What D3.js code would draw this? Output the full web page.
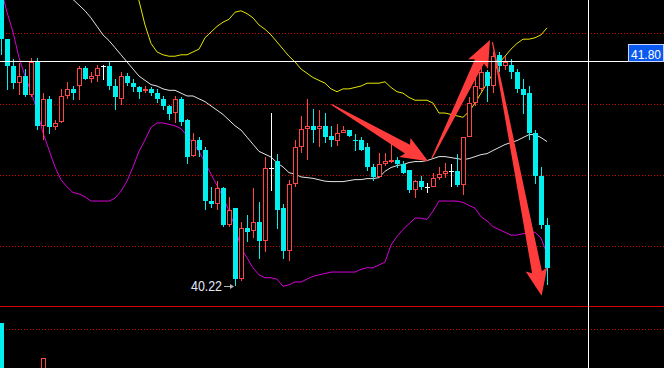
<!DOCTYPE html>
<html>
<head>
<meta charset="utf-8">
<style>
	body { margin: 0; background: #000; }
	svg { display: block; background: #000; }
	.grid { stroke: #d00000; stroke-dasharray: 1,2; }
	.band { fill: none; stroke-width: 1; }
</style>
</head>
<body>
<svg width="664" height="368"></svg>

<script src="https://d3js.org/d3.v7.min.js"></script>
<script>
const width = 664;
const height = 368;
const plotRight = 588;   // vertical white separator before the price column
const mainBottom = 306;  // red line between price and volume panels

// candles, oldest first
const open = [42.27,41.96,41.77,41.65,41.70,41.57,41.80,41.35,41.54,41.34,
	41.38,41.56,41.61,41.63,41.76,41.68,41.70,41.77,41.77,41.63,
	41.54,41.70,41.65,41.62,41.60,41.61,41.58,41.54,41.49,41.44,
	41.54,41.39,41.14,41.25,41.18,40.82,40.80,40.91,40.65,40.77,
	40.27,40.63,40.61,40.67,40.54,41.05,41.10,40.77,40.47,40.94,
	41.20,41.33,41.35,41.33,41.35,41.28,41.24,41.30,41.32,41.25,
	41.25,41.20,41.06,40.99,41.08,41.10,41.11,41.08,41.04,40.90,
	40.96,40.92,40.92,40.98,41.01,41.03,41.03,40.93,41.27,41.51,
	41.61,41.73,41.63,41.85,41.77,41.78,41.73,41.61,41.58,41.30,
	41.00,40.65];
const high = [42.30,41.96,41.82,41.79,41.75,41.83,41.83,41.58,41.56,41.39,
	41.61,41.66,41.63,41.77,41.77,41.73,41.78,41.78,41.80,41.68,
	41.73,41.72,41.68,41.63,41.63,41.62,41.61,41.56,41.50,41.56,
	41.55,41.40,41.30,41.27,41.20,40.92,40.96,40.92,40.85,40.77,
	40.67,40.72,40.91,40.81,41.13,41.44,41.15,40.80,40.97,41.25,
	41.42,41.54,41.47,41.46,41.44,41.35,41.36,41.35,41.32,41.29,
	41.27,41.23,41.08,41.16,41.16,41.22,41.13,41.10,41.04,40.97,
	41.00,40.95,41.02,41.06,41.09,41.08,41.15,41.27,41.55,41.77,
	41.78,41.74,41.87,41.87,41.84,41.82,41.75,41.68,41.63,41.32,
	41.06,40.70];
const low = [41.85,41.60,41.61,41.57,41.55,41.55,41.32,41.25,41.29,41.32,
	41.37,41.54,41.53,41.53,41.67,41.65,41.66,41.67,41.60,41.46,
	41.50,41.63,41.59,41.54,41.58,41.56,41.51,41.46,41.39,41.37,
	41.35,41.08,41.13,41.13,40.76,40.77,40.76,40.64,40.64,40.22,
	40.26,40.53,40.56,40.41,40.46,40.89,40.62,40.41,40.40,40.92,
	41.16,41.11,41.23,41.20,41.23,41.20,41.21,41.30,41.27,41.17,
	41.17,41.03,40.96,40.98,41.07,41.09,41.05,41.01,40.88,40.84,
	40.90,40.88,40.92,40.97,40.98,40.92,40.92,40.86,41.27,41.49,
	41.59,41.52,41.58,41.73,41.74,41.68,41.58,41.43,41.25,40.94,
	40.62,40.23];
const close = [41.96,41.77,41.65,41.70,41.57,41.80,41.35,41.54,41.34,41.37,
	41.56,41.61,41.58,41.76,41.68,41.70,41.76,41.77,41.63,41.55,
	41.70,41.65,41.62,41.59,41.61,41.58,41.54,41.49,41.43,41.54,
	41.38,41.13,41.25,41.18,40.82,40.80,40.91,40.65,40.76,40.27,
	40.63,40.60,40.67,40.54,41.05,41.05,40.76,40.47,40.94,41.20,
	41.33,41.35,41.32,41.35,41.27,41.25,41.30,41.32,41.28,41.24,
	41.18,41.06,40.99,41.08,41.10,41.11,41.08,41.02,40.90,40.96,
	40.92,40.92,40.98,41.01,41.03,41.03,40.93,41.27,41.51,41.63,
	41.73,41.63,41.84,41.77,41.80,41.73,41.61,41.57,41.30,41.00,
	40.65,40.35];
const volume = [8940,5200,4800,4100,3900,5300,5600,6750,4700,3200,
	3600,3000,2600,2900,2400,2200,2500,2300,2800,3300,
	3100,2500,2300,2200,1900,2000,2400,2600,3000,2900,
	3500,4900,3600,3100,5400,3000,3200,4100,3800,5700,
	5100,3300,3600,3900,5200,4600,4200,3900,4800,4100,
	3600,3300,2700,2500,2600,2300,2400,2100,2000,2200,
	2500,3100,2700,2800,2300,2200,2100,2400,3000,2600,
	2200,1900,2100,2000,2100,2000,2500,4300,4700,4200,
	3800,3300,4200,3400,2600,2700,3300,3500,4600,5100,
	5500,5800];

// Bollinger bands, each starting at the given candle
const upperStart = 22;
const upper = [42.32,42.23,42.06,41.93,41.87,41.85,41.84,41.84,41.85,41.85,
	41.87,41.89,41.97,42.01,42.05,42.08,42.10,42.15,42.16,42.14,
	42.11,42.06,42.03,41.99,41.94,41.89,41.84,41.80,41.75,41.72,
	41.69,41.67,41.65,41.61,41.59,41.61,41.61,41.62,41.63,41.65,
	41.65,41.65,41.66,41.62,41.59,41.58,41.55,41.53,41.53,41.53,
	41.51,41.44,41.44,41.43,41.42,41.41,41.45,41.51,41.58,41.65,
	41.72,41.79,41.84,41.89,41.93,41.96,41.96,41.97,41.99,42.04];
const middleStart = 11;
const middle = [42.28,42.24,42.20,42.16,42.11,42.05,41.99,41.95,41.90,41.85,
	41.80,41.75,41.70,41.67,41.64,41.63,41.61,41.60,41.60,41.58,
	41.56,41.56,41.54,41.52,41.49,41.46,41.43,41.39,41.35,41.32,
	41.27,41.22,41.17,41.15,41.13,41.09,41.06,41.02,41.01,40.99,
	40.985,40.98,40.97,40.96,40.957,40.957,40.957,40.964,40.971,40.971,
	40.978,40.978,40.985,41.03,41.056,41.07,41.077,41.091,41.098,41.098,
	41.105,41.119,41.133,41.133,41.126,41.119,41.112,41.119,41.133,41.147,
	41.154,41.176,41.197,41.218,41.232,41.246,41.267,41.288,41.288,41.267,
	41.239];
const lowerStart = 0;
const lower = [42.31,42.15,42.01,41.83,41.70,41.59,41.46,41.30,41.18,41.06,
	40.97,40.92,40.88,40.87,40.85,40.82,40.82,40.82,40.82,40.84,
	40.89,40.96,41.06,41.17,41.25,41.34,41.37,41.37,41.36,41.35,
	41.33,41.28,41.23,41.17,41.09,41.01,40.93,40.85,40.75,40.64,
	40.49,40.42,40.35,40.30,40.28,40.28,40.27,40.22,40.23,40.25,
	40.25,40.27,40.29,40.30,40.31,40.32,40.32,40.32,40.32,40.32,
	40.34,40.35,40.35,40.37,40.39,40.51,40.57,40.62,40.66,40.70,
	40.70,40.69,40.75,40.82,40.82,40.82,40.82,40.81,40.79,40.77,
	40.71,40.68,40.64,40.62,40.60,40.58,40.58,40.59,40.60,40.60,
	40.56,40.45];

const gridLevels = [42.0, 41.5, 41.0, 40.5];
const volGridLevel = 8560;
const lineLevel = 41.80;
const lowLabel = "40.22";

// hand-drawn arrows: [candle, price] from -> to
const arrowFrom = [[55.1, 41.50], [71.8, 41.12], [81.9, 41.94]];
const arrowTo = [[71.2, 41.10], [81.5, 41.955], [90.1, 40.153]];


var svg = d3.select("svg");

var x = d3.scaleLinear().domain([0, 91]).range([1, 547]);
var y = d3.scaleLinear().domain([40, 42]).range([317.5, 33.5]);
var yVol = d3.scaleLinear().domain([0, 10000]).range([466, 306]);

var crisp = function(v) { return Math.floor(v) + 0.5; };

// grid
svg.selectAll(".grid")
	.data(gridLevels)
	.enter()
	.append("line")
		.attr("class", "grid")
		.attr("x1", 0).attr("x2", width)
		.attr("y1", d => crisp(y(d))).attr("y2", d => crisp(y(d)));

svg.append("line")
	.attr("class", "grid")
	.attr("x1", 0).attr("x2", width)
	.attr("y1", crisp(yVol(volGridLevel))).attr("y2", crisp(yVol(volGridLevel)));

svg.append("line")
	.attr("x1", 0).attr("x2", width)
	.attr("y1", mainBottom + 0.5).attr("y2", mainBottom + 0.5)
	.attr("stroke", "#d80000");

svg.append("defs").append("clipPath").attr("id", "main")
	.append("rect").attr("x", 0).attr("y", 0).attr("width", plotRight).attr("height", mainBottom);

var main = svg.append("g").attr("clip-path", "url(#main)");

// bands
var bands = [
	{ start: upperStart, values: upper, color: "#e6e600" },
	{ start: middleStart, values: middle, color: "#e4e4e4" },
	{ start: lowerStart, values: lower, color: "#d600d6" }
];
var bandLine = d3.line()
	.x(d => x(d[0]))
	.y(d => y(d[1]));

main.selectAll(".band")
	.data(bands)
	.enter()
	.append("path")
		.attr("class", "band")
		.attr("stroke", d => d.color)
		.attr("d", d => bandLine(d.values.map((v, k) => [d.start + k, v])));

// candles
var candles = d3.range(open.length).map(function(i) {
	return { i: i, o: open[i], h: high[i], l: low[i], c: close[i], v: volume[i] };
});
var kind = function(d) { return d.c > d.o ? "up" : (d.c < d.o ? "down" : "flat"); };
var colors = { up: "#ff4444", down: "#00f0f0", flat: "#ffffff" };

var cg = main.selectAll(".candle")
	.data(candles)
	.enter()
	.append("g")
		.attr("class", "candle");

cg.each(function(d) {
	var g = d3.select(this);
	var cx = Math.round(x(d.i));
	var col = colors[kind(d)];
	var top = Math.round(y(Math.max(d.o, d.c)));
	var bot = Math.round(y(Math.min(d.o, d.c)));
	var yh = Math.round(y(d.h));
	var yl = Math.round(y(d.l));

	if (kind(d) === "up") {
		g.append("line").attr("x1", cx + 0.5).attr("x2", cx + 0.5)
			.attr("y1", yh).attr("y2", top).attr("stroke", col);
		g.append("line").attr("x1", cx + 0.5).attr("x2", cx + 0.5)
			.attr("y1", bot).attr("y2", yl).attr("stroke", col);
		g.append("rect")
			.attr("x", cx - 1.5).attr("y", top + 0.5)
			.attr("width", 4).attr("height", Math.max(1, bot - top - 1))
			.attr("fill", "#000").attr("stroke", col);
	} else {
		g.append("line").attr("x1", cx + 0.5).attr("x2", cx + 0.5)
			.attr("y1", yh).attr("y2", yl).attr("stroke", col);
		if (kind(d) === "down") {
			g.append("rect")
				.attr("x", cx - 2).attr("y", top)
				.attr("width", 5).attr("height", Math.max(1, bot - top))
				.attr("fill", col);
		} else {
			g.append("line").attr("x1", cx - 2).attr("x2", cx + 3)
				.attr("y1", top + 0.5).attr("y2", top + 0.5).attr("stroke", col);
		}
	}
});

// volume
svg.selectAll(".vol")
	.data(candles)
	.enter()
	.append("rect")
		.attr("class", "vol")
		.attr("x", d => Math.round(x(d.i)) - (kind(d) === "up" ? 1.5 : 2))
		.attr("y", d => Math.round(yVol(d.v)) + (kind(d) === "up" ? 0.5 : 0))
		.attr("width", d => kind(d) === "up" ? 4 : 5)
		.attr("height", d => Math.max(0, yVol(0) - yVol(d.v)))
		.attr("fill", d => kind(d) === "up" ? "#000" : colors[kind(d)])
		.attr("stroke", d => kind(d) === "up" ? colors.up : "none");

// lowest price marker
var minI = d3.minIndex(low);
var mx = Math.round(x(minI));
var my = Math.round(y(low[minI]));
main.append("line")
	.attr("x1", mx - 11).attr("x2", mx - 2)
	.attr("y1", my + 0.5).attr("y2", my + 0.5)
	.attr("stroke", "#b4b4b4");
main.append("path")
	.attr("d", `M${mx - 1},${my + 0.5} L${mx - 5},${my - 2} L${mx - 5},${my + 3} Z`)
	.attr("fill", "#b4b4b4");
main.append("text")
	.attr("x", mx - 13).attr("y", my + 5)
	.attr("text-anchor", "end")
	.attr("font-family", "Liberation Sans, Arial, sans-serif")
	.attr("font-size", 14)
	.attr("textLength", 31)
	.attr("lengthAdjust", "spacingAndGlyphs")
	.attr("fill", "#e6e6f6")
	.text(lowLabel);

// arrows
var arrowPath = function(a, b) {
	var x0 = x(a[0]), y0 = y(a[1]), x1 = x(b[0]), y1 = y(b[1]);
	var len = Math.hypot(x1 - x0, y1 - y0);
	var ux = (x1 - x0) / len, uy = (y1 - y0) / len;
	var nx = -uy, ny = ux;
	var headLen = 24, headW = 11, shaftW = 5, tailW = 0.6;
	var bx = x1 - ux * headLen, by = y1 - uy * headLen;
	var pts = [
		[x0 + nx * tailW, y0 + ny * tailW],
		[bx + nx * shaftW, by + ny * shaftW],
		[bx + nx * headW - ux * 3, by + ny * headW - uy * 3],
		[x1, y1],
		[bx - nx * headW - ux * 3, by - ny * headW - uy * 3],
		[bx - nx * shaftW, by - ny * shaftW],
		[x0 - nx * tailW, y0 - ny * tailW]
	];
	return "M" + pts.map(p => p[0].toFixed(1) + "," + p[1].toFixed(1)).join("L") + "Z";
};

main.selectAll(".arrow")
	.data(arrowFrom)
	.enter()
	.append("path")
		.attr("class", "arrow")
		.attr("fill", "#ff3c3c")
		.attr("d", (d, k) => arrowPath(d, arrowTo[k]));

// horizontal level line and its price label
var ly = Math.floor(y(lineLevel)) + 0.5;
svg.append("line")
	.attr("x1", 0).attr("x2", 629)
	.attr("y1", ly).attr("y2", ly)
	.attr("stroke", "#ffffff");

svg.append("line")
	.attr("x1", plotRight + 0.5).attr("x2", plotRight + 0.5)
	.attr("y1", 0).attr("y2", height)
	.attr("stroke", "#ffffff");

svg.append("rect")
	.attr("x", 628.5).attr("y", ly - 17)
	.attr("width", 35).attr("height", 17)
	.attr("fill", "#0a5af0")
	.attr("stroke", "#c8d4ff");
svg.append("text")
	.attr("x", 631).attr("y", ly - 3)
	.attr("font-family", "Liberation Sans, Arial, sans-serif")
	.attr("font-size", 13)
	.attr("textLength", 30)
	.attr("lengthAdjust", "spacingAndGlyphs")
	.attr("fill", "#ffffff")
	.text(lineLevel.toFixed(2));
</script>
</body>
</html>
